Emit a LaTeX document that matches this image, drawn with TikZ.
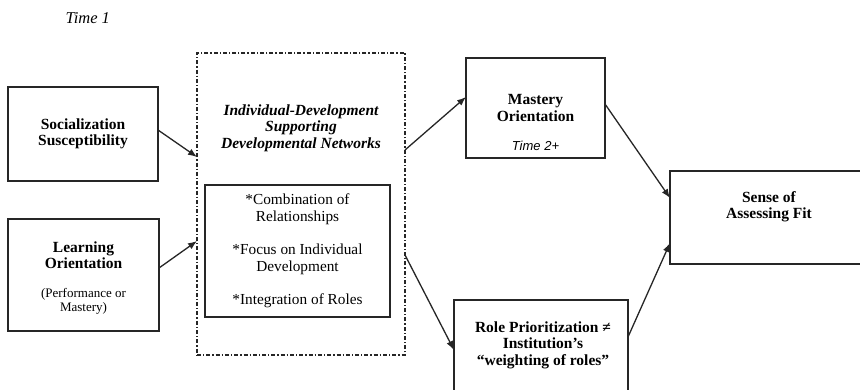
\documentclass[tikz,border=0pt]{standalone}
\usepackage{fontspec}
\setmainfont{Liberation Serif}
\setsansfont{Liberation Sans}
\usetikzlibrary{arrows.meta}
\definecolor{inkline}{gray}{0.15}

\begin{document}
\begin{tikzpicture}[x=1pt,y=-1pt,
    box/.style={draw=inkline,line width=1.3pt,inner sep=0pt,outer sep=0pt},
    netbox/.style={draw=inkline,line width=1.1pt,inner sep=0pt,outer sep=0pt,
      dash pattern=on 4pt off 2pt on 1.3pt off 2pt},
    head/.style={font=\fontsize{15.5}{16.5}\selectfont\bfseries,align=center},
    plain/.style={font=\fontsize{15.3}{17}\selectfont,align=center},
    note/.style={font=\fontsize{13}{13.5}\selectfont,align=center},
    link/.style={draw=inkline,line width=1.3pt,-{Latex[length=9pt,width=7pt]}}]
\useasboundingbox[fill=white] (0,0) rectangle (860,390);
\clip (0,0) rectangle (860,390);
  \node[anchor=west,font=\fontsize{16.5}{18}\selectfont\itshape] (time1) at (62,18) {Time 1};
  % left column
  \node[box,head,minimum width=150,minimum height=94] (soc) at (83,134) {Socialization\\Susceptibility};
  \node[box,minimum width=151,minimum height=112] (learn) at (83.5,275) {};
  \node[head] (learn-t) at (83.5,255) {Learning\\Orientation};
  \node[note] (learn-s) at (83.5,301.5) {(Performance or\\Mastery)};
  % networks
  \node[netbox,minimum width=208,minimum height=302] (net) at (301,204) {};
  \node[head,font=\fontsize{15.5}{16.5}\selectfont\bfseries\itshape] (net-t) at (301,128) {Individual-Development\\Supporting\\Developmental Networks};
  \node[box,plain,minimum width=185,minimum height=132] (traits) at (297.5,251)
    {*Combination of\\Relationships\\[16pt]*Focus on Individual\\Development\\[16pt]*Integration of Roles};
  % outcomes
  \node[box,head,minimum width=139,minimum height=100] (mastery) at (535.5,108) {Mastery\\Orientation};
  \node[font=\fontsize{13}{14}\selectfont\sffamily\itshape] (time2) at (535.5,146) {Time 2+};
  \node[box,minimum width=174,minimum height=100] (role) at (541,350) {};
  \node[head] (role-t) at (543,345) {Role Prioritization ≠\\Institution’s\\“weighting of roles”};
  \node[box,minimum width=198,minimum height=93] (fit) at (769,217.5) {};
  \node[head] (fit-t) at (769,207) {Sense of\\Assessing Fit};
  % arrows
  \draw[link] ([yshift=4pt]soc.east) -- ([yshift=47pt]net.west);
  \draw[link] ([yshift=7pt]learn.east) -- ([yshift=-37pt]net.west);
  \draw[link] ([yshift=54pt]net.east) -- ([yshift=11pt]mastery.west);
  \draw[link] ([yshift=-51pt]net.east) -- (role.west);
  \draw[link] ([yshift=4pt]mastery.east) -- ([yshift=19.5pt]fit.west);
  \draw[link] ([yshift=13pt]role.east) -- ([yshift=-25.5pt]fit.west);
\end{tikzpicture}
\end{document}
